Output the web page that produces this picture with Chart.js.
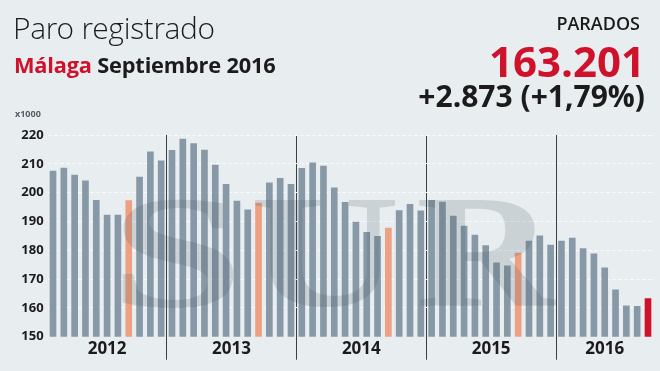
<!DOCTYPE html>
<html>
<head>
<meta charset="utf-8">
<script src="https://cdn.jsdelivr.net/npm/chart.js@4.4.1/dist/chart.umd.min.js"></script>
<style>
  html, body { margin: 0; padding: 0; }
  body { width: 660px; height: 371px; background: #e8edf0; position: relative; overflow: hidden; font-family: "Open Sans", sans-serif; color: #1b1b1b; }
  #chartBox { position: absolute; left: 0; top: 0; width: 660px; height: 371px; }
  .txt { position: absolute; white-space: nowrap; line-height: 1; }
  #title { left: 13px; top: 13px; font-size: 30px; font-family: "Open Sans Light", "Open Sans", sans-serif; font-weight: 300; letter-spacing: -0.3px; }
  #subtitle { left: 14px; top: 54px; font-size: 21.8px; font-weight: 700; letter-spacing: -0.2px; }
  #subtitle span { color: #d0112b; }
  #label { right: 20px; top: 14px; font-size: 18px; font-weight: 600; }
  #total { right: 15px; top: 40px; font-size: 42px; font-weight: 700; color: #d0112b; }
  #change { right: 15px; top: 81px; font-size: 30px; font-weight: 700; }
  #unit { left: 15px; top: 109px; font-size: 9px; font-weight: 700; color: #555d64; }
  .wm { position: absolute; top: 172px; font-family: "Liberation Serif", serif; font-weight: 700; font-size: 160px; line-height: 1; color: rgba(60, 75, 90, 0.17); transform-origin: left top; pointer-events: none; }
</style>
</head>
<body>
<div id="chartBox"><canvas id="paroCanvas"></canvas></div>

<div class="txt" id="title">Paro registrado</div>
<div class="txt" id="subtitle"><span>Málaga</span> Septiembre 2016</div>
<div class="txt" id="label">PARADOS</div>
<div class="txt" id="total">163.201</div>
<div class="txt" id="change">+2.873 (+1,79%)</div>
<div class="txt" id="unit">x1000</div>

<div class="wm" style="left:110px; transform:scaleX(1.5);">S</div>
<div class="wm" style="left:250px; transform:scaleX(1.3);">U</div>
<div class="wm" style="left:416px; transform:scaleX(1.2);">R</div>

<script>
// parados en miles, desde febrero 2012 hasta septiembre 2016
const months = ['ene', 'feb', 'mar', 'abr', 'may', 'jun', 'jul', 'ago', 'sep', 'oct', 'nov', 'dic'];
const years = ['2012', '2013', '2014', '2015', '2016'];
const paro2012 = [207.5, 208.5, 206.1, 204.1, 197.3, 192.2, 192.2, 197.2, 205.4, 214.2, 211.0]; // feb - dic
const paro2013 = [214.7, 218.6, 217.0, 214.8, 209.6, 202.9, 197.1, 194.0, 196.4, 203.4, 205.0, 202.9];
const paro2014 = [208.4, 210.3, 209.2, 201.7, 196.6, 189.8, 186.2, 184.8, 187.7, 193.8, 195.9, 193.7];
const paro2015 = [197.3, 196.7, 191.9, 188.4, 185.3, 181.6, 175.6, 174.6, 179.0, 183.2, 185.0, 181.8];
const paro2016 = [183.2, 184.2, 180.6, 178.8, 173.9, 166.3, 160.7, 160.5, 163.2]; // ene - sep
const yTicks = [150, 160, 170, 180, 190, 200, 210, 220];

const barColor = '#8799a6';
const septColor = '#eea083';
const lastColor = '#d0112b';

document.addEventListener('DOMContentLoaded', function() {
    const series = [paro2012, paro2013, paro2014, paro2015, paro2016];

    // etiquetas mes-año, valores y colores
    const labels = [];
    const values = [];
    const colors = [];
    const yearStarts = [];
    series.forEach((yearData, i) => {
        const first = i === 0 ? 12 - yearData.length : 0;
        yearStarts.push(values.length);
        yearData.forEach((v, j) => {
            const m = months[first + j];
            labels.push(m + ' ' + years[i]);
            values.push(v);
            colors.push(m === 'sep' ? septColor : barColor);
        });
    });
    colors[colors.length - 1] = lastColor;

    // separadores entre años y centro de cada año (eje lineal sobre los índices)
    const dividers = yearStarts.slice(1);
    const bounds = [0].concat(dividers, [values.length]);
    const yearCenters = years.map((y, i) => (bounds[i] + bounds[i + 1]) / 2);
    const yearAxisTicks = dividers.concat(yearCenters).sort((a, b) => a - b);

    const ctx = document.getElementById('paroCanvas').getContext('2d');
    new Chart(ctx, {
        type: 'bar',
        data: {
            labels: labels,
            datasets: [{
                data: values,
                backgroundColor: colors,
                barThickness: 6,
                borderWidth: 0
            }]
        },
        options: {
            responsive: true,
            maintainAspectRatio: false,
            animation: false,
            events: [],
            layout: { padding: { top: 135, right: 6.6, bottom: 0, left: 0 } },
            plugins: {
                legend: { display: false },
                tooltip: { enabled: false }
            },
            scales: {
                x: {
                    display: false
                },
                years: {
                    type: 'linear',
                    position: 'bottom',
                    offset: false,
                    min: 0,
                    max: values.length,
                    afterBuildTicks: function(axis) {
                        axis.ticks = yearAxisTicks.map(v => ({ value: v }));
                    },
                    afterFit: function(axis) {
                        axis.height = 34.3;
                    },
                    border: { display: false },
                    grid: {
                        offset: false,
                        color: function(c) {
                            return c.tick && dividers.includes(c.tick.value) ? '#3a3f44' : 'rgba(0,0,0,0)';
                        },
                        lineWidth: 1,
                        drawTicks: true,
                        tickLength: 23
                    },
                    ticks: {
                        autoSkip: false,
                        maxRotation: 0,
                        padding: -21,
                        color: '#1b1b1b',
                        font: { family: 'Open Sans', size: 17, weight: 'bold' },
                        callback: function(value) {
                            const k = yearCenters.indexOf(value);
                            return k >= 0 ? years[k] : '';
                        }
                    }
                },
                y: {
                    min: yTicks[0],
                    max: yTicks[yTicks.length - 1],
                    afterBuildTicks: function(axis) {
                        axis.ticks = yTicks.map(v => ({ value: v }));
                    },
                    afterFit: function(axis) {
                        axis.width = 47.6;
                    },
                    border: { display: false, dash: [4, 2] },
                    grid: {
                        color: function(c) {
                            return c.tick && c.tick.value === yTicks[0] ? 'rgba(0,0,0,0)' : '#f8fafb';
                        },
                        drawTicks: false
                    },
                    ticks: {
                        padding: 4,
                        color: '#1b1b1b',
                        font: { family: 'Open Sans', size: 13, weight: 'bold' }
                    }
                }
            }
        }
    });
});
</script>
</body>
</html>
